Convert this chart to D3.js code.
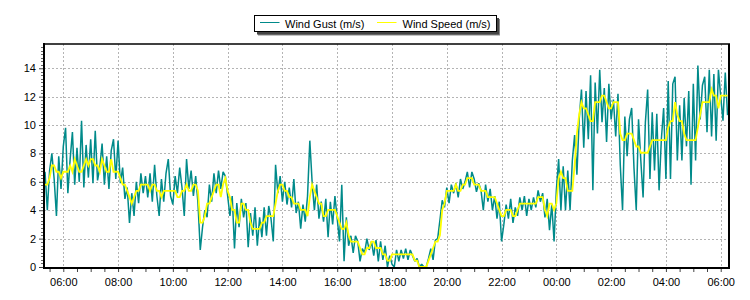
<!DOCTYPE html>
<html><head><meta charset="utf-8">
<script src="https://cdn.jsdelivr.net/npm/d3@7/dist/d3.min.js"></script>
<style>
body{margin:0;background:#fff;}
text{font-family:"Liberation Sans",Arial,sans-serif;font-size:11px;fill:#000;}
</style></head>
<body><svg id="c" width="750" height="300"></svg>
<script>
// ---- data (5-minute samples starting 05:20) ----
const startTime = "2020-01-01T05:20:00";
const stepMinutes = 5;
const windGust = [
 6.7,4.0,6.8,8.0,6.2,3.6,7.8,5.5,8.5,9.8,
 5.2,7.6,9.5,5.8,8.4,6.0,10.3,5.6,8.6,6.3,
 9.0,5.9,9.6,6.1,7.0,8.7,5.8,7.8,5.5,8.2,
 9.0,6.2,8.9,5.9,7.0,4.8,5.6,3.1,5.2,3.6,
 6.0,4.5,6.6,5.2,6.4,4.9,6.6,4.6,7.2,5.0,
 3.6,6.2,4.6,6.6,7.6,5.0,4.4,6.4,5.2,7.0,
 5.6,3.6,7.6,5.5,6.8,5.0,6.4,4.5,1.2,2.8,
 4.0,3.5,5.8,4.6,6.6,5.2,6.8,5.5,6.7,6.4,
 5.0,3.6,5.0,1.3,4.5,2.8,4.8,3.5,4.5,1.4,
 3.8,2.2,4.2,1.5,3.5,2.1,4.2,2.2,4.3,3.4,
 1.8,7.2,5.2,6.4,4.6,6.0,4.4,5.6,4.2,6.2,
 3.8,4.6,2.7,4.4,3.2,5.0,8.9,6.0,4.0,5.8,
 3.4,4.6,3.2,4.8,2.1,4.6,3.0,5.0,3.4,1.8,
 5.8,0.4,3.5,1.5,2.2,1.0,2.2,1.8,0.4,1.3,
 1.0,2.0,1.2,1.8,0.8,1.9,0.4,1.8,0.5,1.5,
 0.0,0.8,0.2,0.0,1.2,0.4,1.2,0.6,1.3,0.5,
 1.2,0.8,0.4,0.6,0.0,0.2,0.0,0.0,0.6,1.3,
 0.5,1.9,2.0,3.3,4.7,4.2,5.6,4.5,5.8,5.2,
 5.9,4.9,6.2,5.5,6.0,6.7,5.6,6.7,6.2,5.3,
 5.9,5.4,4.0,5.8,4.6,5.5,4.0,5.0,3.4,4.6,
 1.8,3.0,4.4,3.4,4.8,3.1,4.2,3.6,4.9,4.0,
 5.0,3.6,4.8,4.0,4.9,4.2,5.4,4.6,5.2,3.5,
 4.8,2.6,4.4,1.8,5.4,7.6,4.0,7.1,4.0,6.8,
 4.0,7.5,9.3,6.5,10.4,12.5,8.4,12.4,9.0,13.5,
 5.4,13.0,9.4,13.9,10.2,12.6,8.8,12.9,10.4,11.8,
 9.2,12.2,7.2,4.0,10.6,7.8,10.4,11.2,7.0,4.0,
 10.4,7.5,4.9,10.2,12.5,6.2,10.9,6.8,10.8,5.4,
 9.0,11.2,6.2,13.1,6.2,12.9,13.4,7.5,11.4,7.5,
 11.9,8.5,12.4,5.8,12.9,7.5,14.2,10.4,12.8,13.4,
 9.5,13.9,9.2,13.6,8.9,13.9,12.0,10.3,13.7,10.7
];
const windSpeed = [
 5.81,5.81,6.26,7.15,7.15,6.71,6.71,6.26,6.71,6.71,
 6.71,7.15,6.71,7.6,7.15,6.71,6.71,7.15,7.6,7.15,
 7.6,7.6,7.15,7.15,6.71,7.6,7.15,6.71,6.71,7.6,
 6.71,6.71,6.71,6.26,5.81,5.81,5.36,4.92,4.47,4.92,
 5.36,5.36,5.81,5.81,5.81,5.81,5.36,5.81,5.81,5.36,
 5.36,4.92,5.36,5.36,5.36,5.36,5.36,5.36,4.92,4.92,
 5.36,5.36,5.81,5.36,5.36,5.81,5.81,5.36,3.13,3.13,
 3.58,4.47,4.47,4.92,5.36,5.81,5.81,4.92,5.81,6.26,
 5.36,4.92,4.02,4.02,3.13,3.13,4.47,4.47,4.02,4.02,
 3.13,2.68,2.68,2.68,2.68,3.13,3.13,3.58,3.58,3.58,
 3.58,4.47,5.36,5.81,5.81,5.36,5.36,4.92,4.92,4.47,
 4.47,4.47,4.02,4.02,4.02,3.58,4.92,5.81,5.36,4.92,
 4.47,4.47,3.58,3.58,4.02,4.02,4.02,4.02,3.58,3.13,
 2.68,2.68,3.13,2.24,1.79,1.79,1.79,1.79,1.34,0.89,
 0.89,1.34,1.34,1.79,1.79,1.34,1.34,1.34,0.89,0.89,
 0.45,0.45,0.89,0.89,0.89,0.89,0.89,0.89,0.89,0.89,
 0.89,0.89,0.45,0.45,0,0,0,0,0.45,0.89,
 1.34,1.79,1.79,2.24,4.02,4.47,5.36,5.36,5.36,5.36,
 5.81,5.36,5.36,5.81,5.81,6.26,6.26,6.26,5.81,5.81,
 5.81,5.36,5.36,5.36,4.92,4.92,4.92,4.92,4.47,4.02,
 3.58,3.58,4.02,4.02,4.02,3.58,3.58,4.02,4.47,4.47,
 4.47,4.47,4.47,4.47,4.47,4.47,4.92,4.92,4.92,4.02,
 3.58,4.47,4.47,4.02,4.47,6.26,6.71,6.26,6.26,5.36,
 5.36,5.36,7.15,9.39,10.73,11.62,11.18,11.18,10.73,10.28,
 10.28,11.62,11.62,11.62,12.07,12.07,11.62,11.18,11.18,11.62,
 11.62,11.62,9.39,8.94,8.94,9.39,9.39,9.39,8.94,8.49,
 8.49,8.05,8.05,8.05,8.05,8.49,8.94,8.94,8.94,8.94,
 8.94,8.94,8.94,9.83,10.28,10.28,11.62,10.73,10.28,10.28,
 9.39,8.94,8.94,8.94,8.94,8.94,9.83,10.73,11.62,11.62,
 11.62,11.62,12.52,12.07,12.07,11.18,12.07,12.07,12.07,12.07
];
const yTicks = [0,2,4,6,8,10,12,14];
const seriesNames = ["Wind Gust (m/s)", "Wind Speed (m/s)"];
const seriesColors = ["#008a8a", "#ffff00"];
const xDomain = ["2020-01-01T05:17:45", "2020-01-02T06:18:10"];

// ---- layout ----
const L = 44, R = 729, T = 44, B = 268;
const svg = d3.select("#c");
const parse = d3.isoParse;
const t0 = parse(startTime);
const times = windGust.map((_, i) => d3.timeMinute.offset(t0, i * stepMinutes));

const x = d3.scaleTime().domain(xDomain.map(parse)).range([L, R]);
const y = d3.scaleLinear().domain([0, 15.71]).range([267, T]);

// grid
const grid = svg.append("g").attr("stroke", "#b4b4b4").attr("stroke-dasharray", "2,2").attr("stroke-width", 1);
const xMajor = x.ticks(d3.timeHour.every(2));
grid.selectAll(".gx").data(xMajor).join("line")
  .attr("x1", d => Math.round(x(d)) + 0.5).attr("x2", d => Math.round(x(d)) + 0.5)
  .attr("y1", T).attr("y2", B);
grid.selectAll(".gy").data(yTicks.filter(d => d > 0)).join("line")
  .attr("x1", L).attr("x2", R)
  .attr("y1", d => Math.round(y(d)) + 0.5).attr("y2", d => Math.round(y(d)) + 0.5);

// series
svg.append("clipPath").attr("id", "pc").append("rect")
  .attr("x", L).attr("y", T).attr("width", R - L).attr("height", B - T + 1);
const line = d3.line().x((d, i) => x(times[i])).y(d => y(d));
svg.append("path").datum(windGust).attr("clip-path", "url(#pc)")
  .attr("fill", "none").attr("stroke", seriesColors[0]).attr("stroke-width", 1.5)
  .attr("stroke-linejoin", "bevel").attr("d", line);
svg.append("path").datum(windSpeed).attr("clip-path", "url(#pc)")
  .attr("fill", "none").attr("stroke", seriesColors[1]).attr("stroke-width", 1.8)
  .attr("d", line);

// frame
svg.append("line").attr("x1", L).attr("x2", R + 1).attr("y1", T).attr("y2", T).attr("stroke", "#000").attr("stroke-width", 1.5);
svg.append("line").attr("x1", R).attr("x2", R).attr("y1", T).attr("y2", B + 1).attr("stroke", "#000").attr("stroke-width", 2);

// y axis
const yAxis = d3.axisLeft(y).tickValues(yTicks).tickSize(5).tickPadding(3);
const gy = svg.append("g").attr("transform", `translate(${L},0)`).call(yAxis);
gy.select(".domain").remove();
gy.selectAll("text").style("font-size", "11px").style("font-family", "Liberation Sans, Arial, sans-serif");
gy.selectAll("line").attr("stroke", "#444");
const yMinor = d3.range(0, 15.6, 0.25).filter(v => !yTicks.includes(v));
svg.append("g").selectAll("line").data(yMinor).join("line")
  .attr("x1", L - 3).attr("x2", L).attr("y1", d => Math.round(y(d)) + 0.5).attr("y2", d => Math.round(y(d)) + 0.5)
  .attr("stroke", "#666");
svg.append("line").attr("x1", L).attr("x2", L).attr("y1", T - 1).attr("y2", B + 1).attr("stroke", "#000").attr("stroke-width", 2);

// x axis
const xAxis = d3.axisBottom(x).ticks(d3.timeMinute.every(30)).tickSize(3)
  .tickFormat(d => d.getMinutes() === 0 && d.getHours() % 2 === 0 ? d3.timeFormat("%H:%M")(d) : "");
const gx = svg.append("g").attr("transform", `translate(0,${B + 1})`).call(xAxis);
gx.select(".domain").remove();
gx.selectAll("line").attr("stroke", "#444");
gx.selectAll("text").attr("dy", null).attr("y", 17).style("font-size", "11px").style("font-family", "Liberation Sans, Arial, sans-serif");
svg.append("line").attr("x1", L - 1).attr("x2", R + 1).attr("y1", B).attr("y2", B).attr("stroke", "#000").attr("stroke-width", 2);

// legend
const lg = svg.append("g");
lg.append("rect").attr("x", 258).attr("y", 19).attr("width", 242).attr("height", 16.5).attr("fill", "#888");
lg.append("rect").attr("x", 257).attr("y", 18).attr("width", 242).attr("height", 16.5).attr("fill", "#444");
lg.append("rect").attr("x", 254.5).attr("y", 15.5).attr("width", 242).attr("height", 16).attr("fill", "#fff").attr("stroke", "#000");
const items = [{x0: 260, tx: 285}, {x0: 377, tx: 402.5}];
items.forEach((it, k) => {
  lg.append("line").attr("x1", it.x0).attr("x2", it.x0 + 19.5).attr("y1", 22.5).attr("y2", 22.5)
    .attr("stroke", seriesColors[k]).attr("stroke-width", 1);
  lg.append("text").attr("x", it.tx).attr("y", 27.5).text(seriesNames[k]);
});
</script></body></html>
